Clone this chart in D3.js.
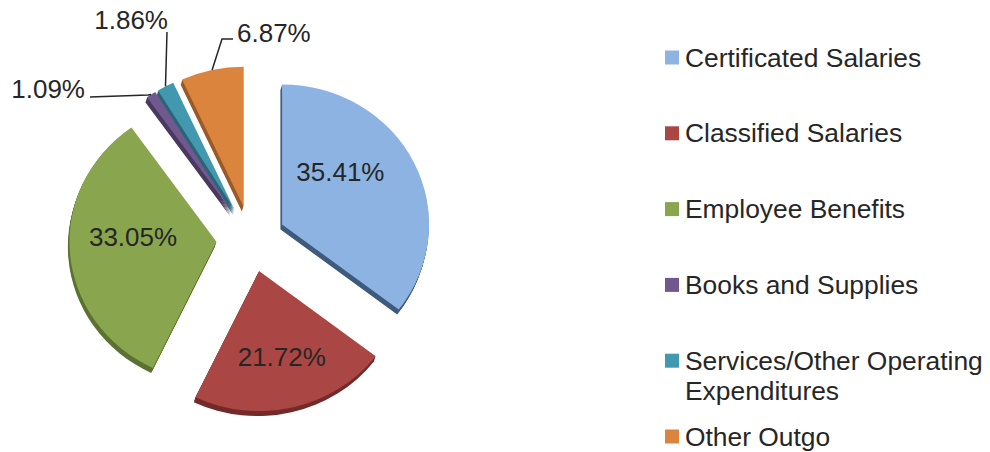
<!DOCTYPE html>
<html>
<head>
<meta charset="utf-8">
<script src="https://cdn.jsdelivr.net/npm/d3@7"></script>
<style>
  body { margin: 0; background: #fff; }
  svg { display: block; font-family: "Liberation Sans", Arial, sans-serif; }
</style>
</head>
<body>
<div id="chart"></div>
<script>
// data
const categories = ["Certificated Salaries", "Classified Salaries", "Employee Benefits",
                    "Books and Supplies", "Services/Other Operating Expenditures", "Other Outgo"]
const percents = [35.41, 21.72, 33.05, 1.09, 1.86, 6.87]

// legend lines (wrapped like the original)
const legendLines = [["Certificated Salaries"], ["Classified Salaries"], ["Employee Benefits"],
                     ["Books and Supplies"], ["Services/Other Operating", "Expenditures"], ["Other Outgo"]]

const colors = ["#8DB3E2", "#AA4643", "#89A54E", "#71588F", "#4198AF", "#DB843D"]
const sides  = ["#3E5B7E", "#732B2A", "#5C7232", "#4A395E", "#2A6577", "#9A5A28"]

const width = 990, height = 452
const cx = 251, cy = 239, radius = 140, sx = 1.05, explode = 33, depth = 5

const svg = d3.select("#chart").append("svg")
    .attr("width", width)
    .attr("height", height)

const pie = d3.pie().sort(null).value(d => d)
const arcs = pie(percents)
const arc = d3.arc().innerRadius(0).outerRadius(radius)

// offset of every slice away from the centre
function sliceOffset(d) {
    let a = (d.startAngle + d.endAngle) / 2
    return [explode * Math.sin(a), -explode * Math.cos(a)]
}

// point at distance r along the middle of a slice, in screen coords
function slicePoint(d, r) {
    let a = (d.startAngle + d.endAngle) / 2
    let o = sliceOffset(d)
    return [cx + sx * (o[0] + r * Math.sin(a)), cy + o[1] - r * Math.cos(a)]
}

// the pie is a little wider than tall (3d tilt)
const g = svg.append("g").attr("transform", "translate(" + cx + "," + cy + ") scale(" + sx + ",1)")

// 3d sides: stack darker copies below each slice
for (let k = depth; k >= 1; k--) {
    g.selectAll(null)
        .data(arcs)
        .enter().append("path")
        .attr("d", arc)
        .attr("fill", (d, i) => sides[i])
        .attr("transform", d => {
            let o = sliceOffset(d)
            return "translate(" + (o[0] - k * 0.3) + "," + (o[1] + k) + ")"
        })
}

// top faces
g.selectAll(null)
    .data(arcs)
    .enter().append("path")
    .attr("d", arc)
    .attr("fill", (d, i) => colors[i])
    .attr("transform", d => "translate(" + sliceOffset(d) + ")")

const fmt = v => v.toFixed(2) + "%"

// inside labels (big slices): point along the slice + nudge
const inside = { 0: { r: 80, dx: -17, dy: -17 }, 1: { r: 85, dx: 2, dy: 3 }, 2: { r: 96, dx: 17, dy: -13 } }
arcs.forEach((d, i) => {
    if (!inside[i]) return
    let L = inside[i]
    let p = slicePoint(d, L.r)
    svg.append("text")
        .attr("x", p[0] + L.dx)
        .attr("y", p[1] + L.dy)
        .attr("text-anchor", "middle")
        .attr("dominant-baseline", "central")
        .attr("font-size", 26)
        .attr("fill", "#262626")
        .text(fmt(percents[i]))
})

// outside labels with leader lines (elbow / text positions are layout)
const outside = {
    3: { pts: [[148, 95], [90, 97]], tx: 85, ty: 98, anchor: "end" },
    4: { pts: [[167, 32]], tx: 168, ty: 29, anchor: "end" },
    5: { pts: [[222, 39], [233, 39]], tx: 237, ty: 42, anchor: "start" }
}
arcs.forEach((d, i) => {
    if (!outside[i]) return
    let L = outside[i]
    let start = slicePoint(d, radius)
    svg.append("path")
        .attr("d", d3.line()([start].concat(L.pts)))
        .attr("fill", "none")
        .attr("stroke", "#262626")
        .attr("stroke-width", 1.5)
    svg.append("text")
        .attr("x", L.tx)
        .attr("y", L.ty)
        .attr("text-anchor", L.anchor)
        .attr("font-size", 26)
        .attr("fill", "#262626")
        .text(fmt(percents[i]))
})

// legend
const legend = svg.append("g").attr("transform", "translate(665,57.5)")
const rowStep = 75.8
legendLines.forEach((lines, i) => {
    let row = legend.append("g").attr("transform", "translate(0," + (i * rowStep) + ")")
    row.append("rect")
        .attr("x", 0).attr("y", -7)
        .attr("width", 14).attr("height", 14)
        .attr("fill", colors[i])
    lines.forEach((t, j) => {
        row.append("text")
            .attr("x", 20)
            .attr("y", j * 30)
            .attr("dominant-baseline", "central")
            .attr("font-size", 26.4)
            .attr("fill", "#262626")
            .text(t)
    })
})
</script>
</body>
</html>
